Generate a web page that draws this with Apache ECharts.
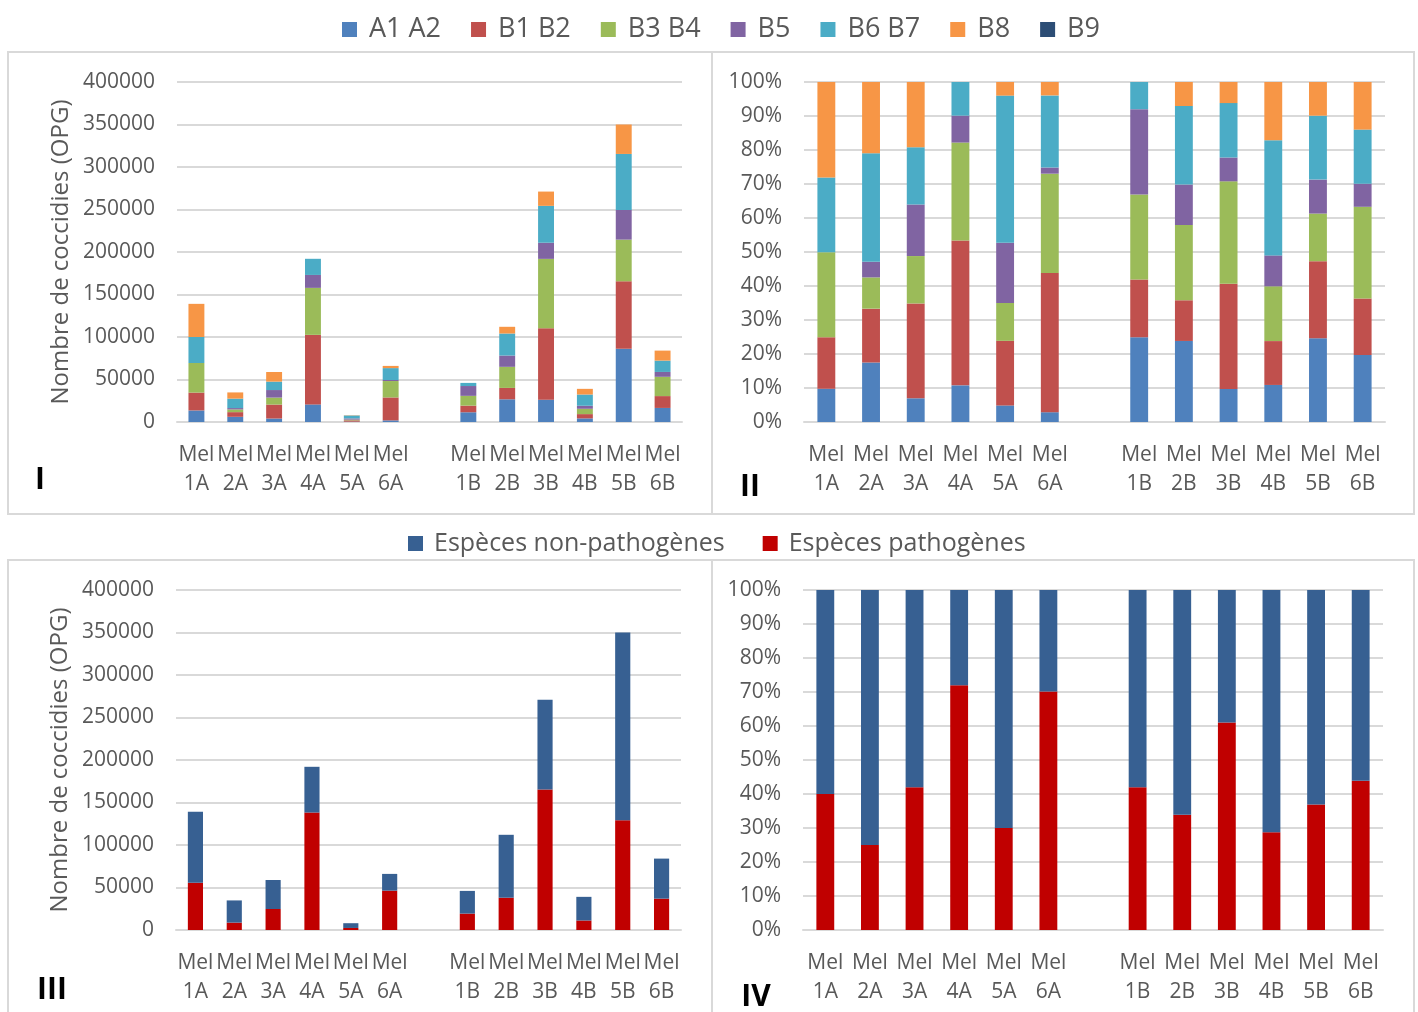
<!DOCTYPE html>
<html><head><meta charset="utf-8">
<script src="https://cdn.jsdelivr.net/npm/echarts@6/dist/echarts.min.js"></script>
<style>html,body{margin:0;padding:0;background:#fff}#c{width:1418px;height:1012px}</style>
</head><body><div id="c"></div>
<script>
// Sample categories (index 6 is the empty gap between the A and B groups)
const samples = ['1A','2A','3A','4A','5A','6A','','1B','2B','3B','4B','5B','6B'];
const categories = samples.map(s => s ? 'Mel\n' + s : '');

// Panel I values (OPG) per species group
const A1A2 = [13600, 6100, 4100, 20700, 390, 1900, null, 11450, 26700, 26300, 4250, 86100, 16550];
const B1B2 = [21000, 5500, 16400, 81800, 1520, 27000, null, 7820, 13400, 84000, 5030, 79450, 13940];
const B3B4 = [34800, 3200, 8200, 55300, 890, 19300, null, 11500, 24800, 81600, 6280, 49000, 22680];
const B5   = [0, 1600, 8900, 15200, 1420, 1200, null, 11550, 13300, 19000, 3550, 35000, 5710];
const B6B7 = [30600, 11100, 9900, 19000, 3460, 14000, null, 3680, 25900, 43400, 13220, 65800, 13360];
const B8   = [39000, 7300, 11300, 0, 320, 2600, null, 0, 7900, 16800, 6670, 34650, 11760];
const B9   = [0, 0, 0, 0, 0, 0, null, 0, 0, 0, 0, 0, 0];

// Panel III values (OPG)
const pathogenes    = [55600, 8700, 24700, 138200, 2400, 46300, null, 19300, 38000, 165300, 11200, 129200, 36900];
const nonPathogenes = [83400, 26100, 34100, 53800, 5600, 19700, null, 26700, 74000, 105700, 27800, 220800, 47100];

// Tick values
const opgTicks = {min: 0, max: 400000, interval: 50000};
const pctTicks = {min: 0, max: 100, interval: 10};

const groupNames = ['A1 A2','B1 B2','B3 B4','B5','B6 B7','B8','B9'];
const groupData = [A1A2, B1B2, B3B4, B5, B6B7, B8, B9];
const groupColors = ['#4F81BD','#C0504D','#9BBB59','#8064A2','#4BACC6','#F79646','#2C4D75'];
const nameNon = 'Espèces non-pathogènes', namePat = 'Espèces pathogènes';
const colNon = '#376092', colPat = '#C00000';

function toPct(arrs) {
  const n = arrs[0].length;
  const tot = [];
  for (let i = 0; i < n; i++) {
    if (arrs[0][i] === null) { tot.push(null); continue; }
    let s = 0; arrs.forEach(a => s += a[i] || 0); tot.push(s);
  }
  return arrs.map(a => a.map((v, i) => v === null ? null : (tot[i] ? v / tot[i] * 100 : 0)));
}
const groupPct = toPct(groupData);
const [patPct, nonPct] = toPct([pathogenes, nonPathogenes]);

const FONT = '"Open Sans", sans-serif';
const TXT = '#595959';
const GRIDC = '#D9D9D9';

function xAx(gi) {
  return {
    type: 'category', gridIndex: gi, data: categories,
    axisTick: {show: false},
    axisLine: {lineStyle: {color: GRIDC, width: 2}},
    axisLabel: {interval: 0, fontSize: 21, color: TXT, fontFamily: FONT, lineHeight: 29, margin: 19}
  };
}
function yAx(gi, pct, withName) {
  const t = pct ? pctTicks : opgTicks;
  const o = {
    type: 'value', gridIndex: gi, min: t.min, max: t.max, interval: t.interval,
    axisLine: {show: false}, axisTick: {show: false},
    splitLine: {lineStyle: {color: GRIDC, width: 2}},
    axisLabel: {fontSize: 21, color: TXT, fontFamily: FONT, margin: 22,
      formatter: pct ? (v => v + '%') : (v => String(v))}
  };
  if (withName) {
    o.name = 'Nombre de coccidies (OPG)';
    o.nameLocation = 'middle';
    o.nameGap = 104;
    o.nameTextStyle = {fontSize: 24, color: TXT, fontFamily: FONT};
  }
  return o;
}

const series = [];
groupNames.forEach((nm, k) => {
  series.push({name: nm, type: 'bar', stack: 'p1', xAxisIndex: 0, yAxisIndex: 0,
    barWidth: '41%', data: groupData[k], itemStyle: {color: groupColors[k]}});
});
groupNames.forEach((nm, k) => {
  series.push({name: nm, type: 'bar', stack: 'p2', xAxisIndex: 1, yAxisIndex: 1,
    barWidth: '40%', data: groupPct[k], itemStyle: {color: groupColors[k]}});
});
series.push({name: namePat, type: 'bar', stack: 'p3', xAxisIndex: 2, yAxisIndex: 2,
  barWidth: '39%', data: pathogenes, itemStyle: {color: colPat}});
series.push({name: nameNon, type: 'bar', stack: 'p3', xAxisIndex: 2, yAxisIndex: 2,
  barWidth: '39%', data: nonPathogenes, itemStyle: {color: colNon}});
series.push({name: namePat, type: 'bar', stack: 'p4', xAxisIndex: 3, yAxisIndex: 3,
  barWidth: '40%', data: patPct, itemStyle: {color: colPat}});
series.push({name: nameNon, type: 'bar', stack: 'p4', xAxisIndex: 3, yAxisIndex: 3,
  barWidth: '40%', data: nonPct, itemStyle: {color: colNon}});

function box(x1, y1, x2, y2) {
  return {type: 'rect', shape: {x: x1, y: y1, width: x2 - x1, height: y2 - y1},
    style: {fill: 'none', stroke: GRIDC, lineWidth: 2}, z: -10};
}
function roman(t, x, y) {
  return {type: 'text', x: x, y: y, style: {text: t, fill: '#000', font: 'bold 30px ' + FONT,
    textAlign: 'center', textVerticalAlign: 'middle'}};
}

const chart = echarts.init(document.getElementById('c'), null, {renderer: 'canvas'});
chart.setOption({
  animation: false,
  textStyle: {fontFamily: FONT},
  legend: [
    {data: groupNames, top: 11, left: 337, icon: 'rect', itemWidth: 15, itemHeight: 15,
      itemGap: 30, textStyle: {fontSize: 27, color: TXT, fontFamily: FONT, padding: [0, 0, 0, 7]},
      selectedMode: false},
    {data: [nameNon, namePat], top: 526, left: 403, icon: 'rect', itemWidth: 15, itemHeight: 15,
      itemGap: 38, textStyle: {fontSize: 25, color: TXT, fontFamily: FONT, padding: [0, 0, 0, 6]},
      selectedMode: false}
  ],
  grid: [
    {left: 177, right: 736, top: 82, bottom: 590},
    {left: 804, right: 33, top: 82, bottom: 590},
    {left: 176, right: 737, top: 590, bottom: 82},
    {left: 803, right: 35, top: 590, bottom: 82}
  ],
  xAxis: [xAx(0), xAx(1), xAx(2), xAx(3)],
  yAxis: [yAx(0, false, true), yAx(1, true, false), yAx(2, false, true), yAx(3, true, false)],
  series: series,
  graphic: [
    box(8, 52, 712, 514), box(712, 52, 1414, 514),
    box(8, 560, 712, 1013), box(712, 560, 1414, 1013),
    roman('I', 40, 480), roman('II', 750, 487), roman('III', 52, 990), roman('IV', 756, 997)
  ]
});
</script></body></html>
